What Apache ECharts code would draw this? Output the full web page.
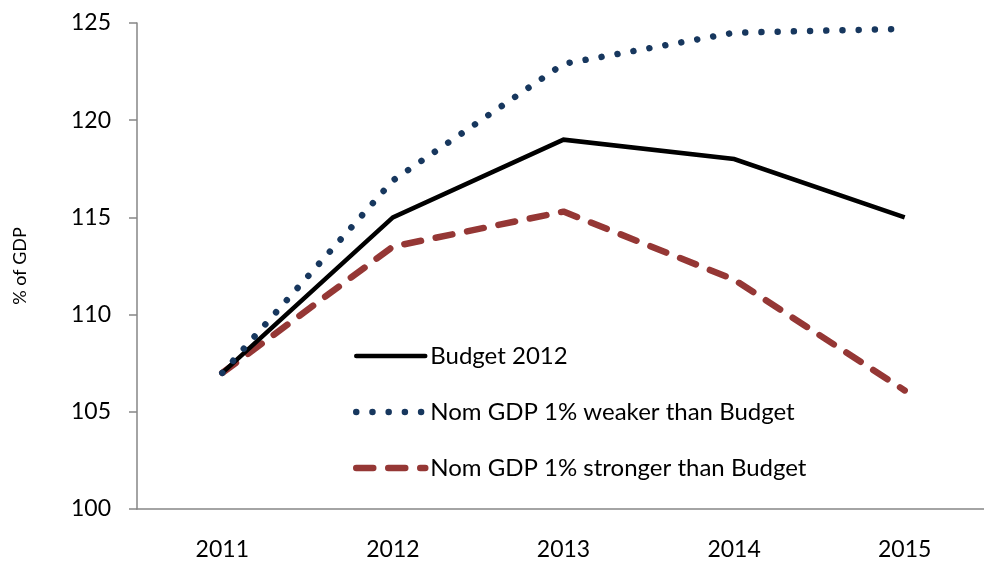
<!DOCTYPE html>
<html>
<head>
<meta charset="utf-8">
<script src="https://cdn.jsdelivr.net/npm/echarts@6/dist/echarts.min.js"></script>
<style>
  html, body { margin: 0; padding: 0; background: #fff; }
  #chart { width: 984px; height: 565px; }
</style>
</head>
<body>
<div id="chart"></div>
<script>
// Debt ratio projections, % of GDP
const years = ['2011', '2012', '2013', '2014', '2015'];
const budget2012 = [107, 115, 119, 118, 115];
const weakerGdp = [107, 116.9, 122.9, 124.5, 124.7];
const strongerGdp = [107, 113.5, 115.3, 111.8, 106.1];
const seriesNames = ['Budget 2012', 'Nom GDP 1% weaker than Budget', 'Nom GDP 1% stronger than Budget'];

const FONT = 'Lato, "Open Sans", sans-serif';
const axisGrey = '#868686';

const chart = echarts.init(document.getElementById('chart'), null, { renderer: 'canvas' });
chart.setOption({
  animation: false,
  textStyle: { fontFamily: FONT },
  grid: { left: 137, top: 23, width: 853, height: 486, containLabel: false, outerBoundsMode: 'none' },
  legend: {
    orient: 'vertical',
    left: 353,
    top: 344,
    padding: 0,
    itemWidth: 69,
    itemHeight: 24,
    itemGap: 32,
    itemStyle: { opacity: 0 },
    lineStyle: { width: 'inherit', type: 'inherit', cap: 'round' },
    textStyle: { fontSize: 24, fontFamily: FONT, color: '#000', padding: [0, 0, 0, 0] },
    data: seriesNames
  },
  xAxis: {
    type: 'category',
    data: years,
    boundaryGap: true,
    axisLine: { lineStyle: { color: axisGrey, width: 1.5 } },
    axisTick: { length: 8, lineStyle: { color: axisGrey, width: 1.5 }, inside: false },
    axisLabel: { fontSize: 23, color: '#000', margin: 29, fontFamily: FONT }
  },
  yAxis: {
    type: 'value',
    min: 100,
    max: 125,
    interval: 5,
    name: '% of GDP',
    nameLocation: 'middle',
    nameGap: 108,
    nameRotate: 90,
    nameTextStyle: { fontSize: 18, color: '#000', fontFamily: FONT },
    axisLine: { show: true, lineStyle: { color: axisGrey, width: 1.5 } },
    axisTick: { show: true, length: 8, lineStyle: { color: axisGrey, width: 1.5 } },
    splitLine: { show: false },
    axisLabel: { fontSize: 23, color: '#000', margin: 26, fontFamily: FONT }
  },
  series: [
    {
      name: seriesNames[0],
      type: 'line',
      data: budget2012,
      symbol: 'none',
      z: 3,
      lineStyle: { color: '#000', width: 4.5, cap: 'butt', join: 'miter' },
      itemStyle: { color: '#000' }
    },
    {
      name: seriesNames[1],
      type: 'line',
      data: weakerGdp,
      symbol: 'none',
      z: 4,
      lineStyle: { color: '#17375E', width: 6.5, type: [0.01, 16.2], cap: 'round' },
      itemStyle: { color: '#17375E' }
    },
    {
      name: seriesNames[2],
      type: 'line',
      data: strongerGdp,
      symbol: 'none',
      z: 2,
      lineStyle: { color: '#953735', width: 6.5, type: [17, 15], cap: 'round' },
      itemStyle: { color: '#953735' }
    }
  ]
});
</script>
</body>
</html>
